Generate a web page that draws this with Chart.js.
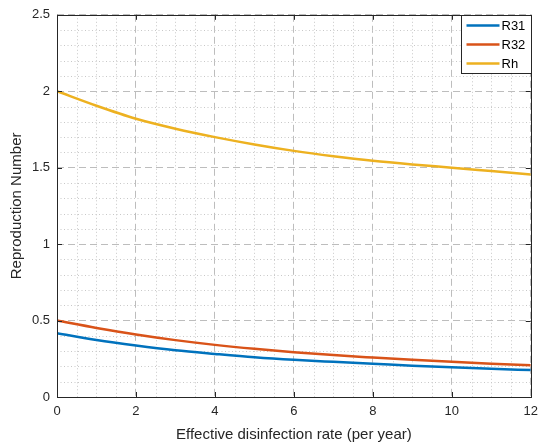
<!DOCTYPE html>
<html>
<head>
<meta charset="utf-8">
<script src="https://cdn.jsdelivr.net/npm/chart.js@4"></script>
<style>
  html, body { margin: 0; padding: 0; background: #fff; }
  canvas { display: block; }
</style>
</head>
<body>
<canvas id="rChart" width="545" height="446"></canvas>
<script>
// disinfection rate (per year)
var rate = [0, 1, 2, 3, 4, 5, 6, 7, 8, 9, 10, 11, 12];
var r31 = [0.417, 0.373, 0.337, 0.306, 0.282, 0.260, 0.243, 0.230, 0.218, 0.205, 0.195, 0.185, 0.176];
var r32 = [0.500, 0.452, 0.409, 0.372, 0.341, 0.315, 0.293, 0.274, 0.258, 0.243, 0.230, 0.218, 0.208];
var rh  = [2.000, 1.905, 1.820, 1.755, 1.700, 1.652, 1.610, 1.575, 1.545, 1.521, 1.500, 1.478, 1.456];

var seriesNames = ['R31', 'R32', 'Rh'];
var seriesColors = ['#0072BD', '#D95319', '#EDB120'];

var axisColor = '#262626';
var fontFamily = '"Liberation Sans", Arial, Helvetica, sans-serif';

function toPoints(ys) {
  return rate.map(function(x, i) { return { x: x, y: ys[i] }; });
}

var datasets = [r31, r32, rh].map(function(ys, i) {
  return {
    label: seriesNames[i],
    data: toPoints(ys),
    borderColor: seriesColors[i],
    backgroundColor: seriesColors[i],
    borderWidth: 2.5,
    pointRadius: 0,
    cubicInterpolationMode: 'monotone',
    fill: false
  };
});

// dotted minor grid, skipping the major lines
var minorGrid = {
  id: 'minorGrid',
  beforeDatasetsDraw: function(chart) {
    var ctx = chart.ctx, ca = chart.chartArea;
    var xs = chart.scales.x, ys = chart.scales.y;
    ctx.save();
    ctx.strokeStyle = '#c8c8c8';
    ctx.lineWidth = 1;
    ctx.setLineDash([1, 2.5]);
    for (var i = 1; i < 24; i++) {
      if (i % 4 === 0) continue;
      var px = Math.round(xs.getPixelForValue(i * 0.5)) + 0.5;
      ctx.beginPath(); ctx.moveTo(px, ca.top); ctx.lineTo(px, ca.bottom); ctx.stroke();
    }
    for (var j = 1; j < 25; j++) {
      if (j % 5 === 0) continue;
      var py = Math.round(ys.getPixelForValue(j * 0.1)) + 0.5;
      ctx.beginPath(); ctx.moveTo(ca.left, py); ctx.lineTo(ca.right, py); ctx.stroke();
    }
    ctx.restore();
  }
};

// axes box with inward ticks on all four sides
var axesBox = {
  id: 'axesBox',
  afterDatasetsDraw: function(chart) {
    var ctx = chart.ctx, ca = chart.chartArea;
    var xs = chart.scales.x, ys = chart.scales.y;
    var t = 5;
    ctx.save();
    ctx.strokeStyle = axisColor;
    ctx.lineWidth = 1;
    ctx.beginPath();
    xs.ticks.forEach(function(tk) {
      var px = Math.round(xs.getPixelForValue(tk.value)) + 0.5;
      ctx.moveTo(px, ca.bottom); ctx.lineTo(px, ca.bottom - t);
      ctx.moveTo(px, ca.top); ctx.lineTo(px, ca.top + t);
    });
    ys.ticks.forEach(function(tk) {
      var py = Math.round(ys.getPixelForValue(tk.value)) + 0.5;
      ctx.moveTo(ca.left, py); ctx.lineTo(ca.left + t, py);
      ctx.moveTo(ca.right, py); ctx.lineTo(ca.right - t, py);
    });
    ctx.stroke();
    ctx.strokeRect(Math.round(ca.left) + 0.5, Math.round(ca.top) + 0.5,
                   Math.round(ca.right - ca.left), Math.round(ca.bottom - ca.top));
    ctx.restore();
  }
};

// legend box in the upper right corner of the axes
var cornerLegend = {
  id: 'cornerLegend',
  afterDraw: function(chart) {
    var ctx = chart.ctx, ca = chart.chartArea;
    var w = 70, h = 58;
    var x0 = Math.round(ca.right - w) + 0.5, y0 = Math.round(ca.top) + 0.5;
    ctx.save();
    ctx.fillStyle = '#fff';
    ctx.fillRect(x0, y0, w, h);
    ctx.strokeStyle = axisColor;
    ctx.lineWidth = 1;
    ctx.strokeRect(x0, y0, w, h);
    ctx.font = '13px ' + fontFamily;
    ctx.textBaseline = 'middle';
    ctx.fillStyle = '#000';
    chart.data.datasets.forEach(function(ds, i) {
      var y = y0 + 10 + i * 19;
      ctx.strokeStyle = ds.borderColor;
      ctx.lineWidth = 2.5;
      ctx.beginPath(); ctx.moveTo(x0 + 5, y); ctx.lineTo(x0 + 38, y); ctx.stroke();
      ctx.fillText(ds.label, x0 + 40, y + 1);
    });
    ctx.restore();
  }
};

function plainNumber(v) { return String(Math.round(v * 10) / 10); }

var ctx = document.getElementById('rChart').getContext('2d');
var chart = new Chart(ctx, {
  type: 'line',
  data: { datasets: datasets },
  plugins: [minorGrid, axesBox, cornerLegend],
  options: {
    responsive: false,
    animation: false,
    layout: { padding: { top: 14, right: 11, left: 0, bottom: 0 } },
    plugins: { legend: { display: false }, tooltip: { enabled: false } },
    scales: {
      x: {
        type: 'linear',
        min: 0, max: 12,
        border: { display: false, dash: [7, 4] },
        grid: { color: '#bdbdbd', drawTicks: false, lineWidth: 1 },
        ticks: { stepSize: 2, padding: 7, color: axisColor, font: { family: fontFamily, size: 13 },
                 maxRotation: 0, callback: plainNumber },
        title: { display: true, text: 'Effective disinfection rate (per year)', color: axisColor,
                 font: { family: fontFamily, size: 15 }, padding: { top: 0, bottom: 2 } },
        afterFit: function(s) { s.height = 49; }
      },
      y: {
        min: 0, max: 2.5,
        border: { display: false, dash: [7, 4] },
        grid: { color: '#bdbdbd', drawTicks: false, lineWidth: 1 },
        ticks: { stepSize: 0.5, padding: 7, color: axisColor, font: { family: fontFamily, size: 13 },
                 callback: plainNumber },
        title: { display: true, text: 'Reproduction Number', color: axisColor,
                 font: { family: fontFamily, size: 15 }, padding: { top: 8, bottom: 0 } },
        afterFit: function(s) { s.width = 57; }
      }
    }
  }
});
</script>
</body>
</html>
